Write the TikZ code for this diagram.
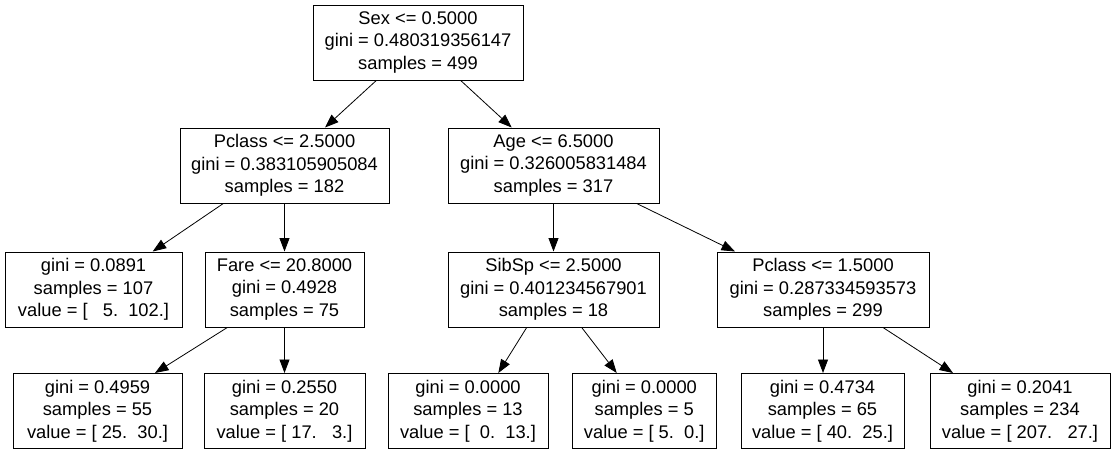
\documentclass[tikz,border=0pt]{standalone}
\usepackage{fontspec}
\setmainfont{Liberation Sans}
\usetikzlibrary{arrows.meta}
\tikzset{
  box/.style={draw=black, line width=1pt, rectangle, inner sep=0pt, minimum height=75pt, align=center,
    font=\fontsize{18.3}{22.4}\selectfont},
  edge/.style={line width=0.8pt, -{Triangle[length=13.5pt,width=10pt]}}
}
\begin{document}
\begin{tikzpicture}[x=1pt,y=-1pt]
\useasboundingbox (0,0) rectangle (1116,453);
\fill[white] (0,0) rectangle (1116,453);
% level 0
\node[box, minimum width=210pt] (root) at (418,42.5) {Sex <= 0.5000\\gini = 0.480319356147\\samples = 499};
% level 1
\node[box, minimum width=209pt] (pc) at (284.5,165.5) {Pclass <= 2.5000\\gini = 0.383105905084\\samples = 182};
\node[box, minimum width=211pt] (age) at (553.5,165.5) {Age <= 6.5000\\gini = 0.326005831484\\samples = 317};
% level 2
\node[box, minimum width=177pt] (l1) at (93.5,289.5) {gini = 0.0891\\samples = 107\\value = [\ \ \ 5.\ \ 102.]};
\node[box, minimum width=159pt] (fare) at (284.5,289.5) {Fare <= 20.8000\\gini = 0.4928\\samples = 75};
\node[box, minimum width=211pt] (sib) at (553.5,289.5) {SibSp <= 2.5000\\gini = 0.401234567901\\samples = 18};
\node[box, minimum width=212pt] (pc2) at (823,289.5) {Pclass <= 1.5000\\gini = 0.287334593573\\samples = 299};
% level 3
\node[box, minimum width=169pt] (l2) at (97.5,411) {gini = 0.4959\\samples = 55\\value = [ 25.\ \ 30.]};
\node[box, minimum width=161pt] (l3) at (284.5,411) {gini = 0.2550\\samples = 20\\value = [ 17.\ \ \ 3.]};
\node[box, minimum width=160pt] (l4) at (468,411) {gini = 0.0000\\samples = 13\\value = [\ \ 0.\ \ 13.]};
\node[box, minimum width=143.5pt] (l5) at (644.25,411) {gini = 0.0000\\samples = 5\\value = [ 5.\ \ 0.]};
\node[box, minimum width=163pt] (l6) at (822.5,411) {gini = 0.4734\\samples = 65\\value = [ 40.\ \ 25.]};
\node[box, minimum width=180pt] (l7) at (1020,411) {gini = 0.2041\\samples = 234\\value = [ 207.\ \ \ 27.]};
% edges
\draw[edge] ([xshift=-41.7pt]root.south) -- ([xshift=40.5pt]pc.north);
\draw[edge] ([xshift=42.7pt]root.south) -- ([xshift=-41.8pt]age.north);
\draw[edge] ([xshift=-61.2pt]pc.south) -- ([xshift=59.2pt]l1.north);
\draw[edge] (pc.south) -- (fare.north);
\draw[edge] (age.south) -- (sib.north);
\draw[edge] ([xshift=83.2pt]age.south) -- ([xshift=-88pt]pc2.north);
\draw[edge] ([xshift=-57.2pt]fare.south) -- ([xshift=57.5pt]l2.north);
\draw[edge] (fare.south) -- (l3.north);
\draw[edge] ([xshift=-26.8pt]sib.south) -- ([xshift=30.3pt]l4.north);
\draw[edge] ([xshift=28.2pt]sib.south) -- ([xshift=-27.5pt]l5.north);
\draw[edge] (pc2.south) -- (pc2.south |- l6.north);
\draw[edge] ([xshift=60pt]pc2.south) -- ([xshift=-67pt]l7.north);
\end{tikzpicture}
\end{document}
